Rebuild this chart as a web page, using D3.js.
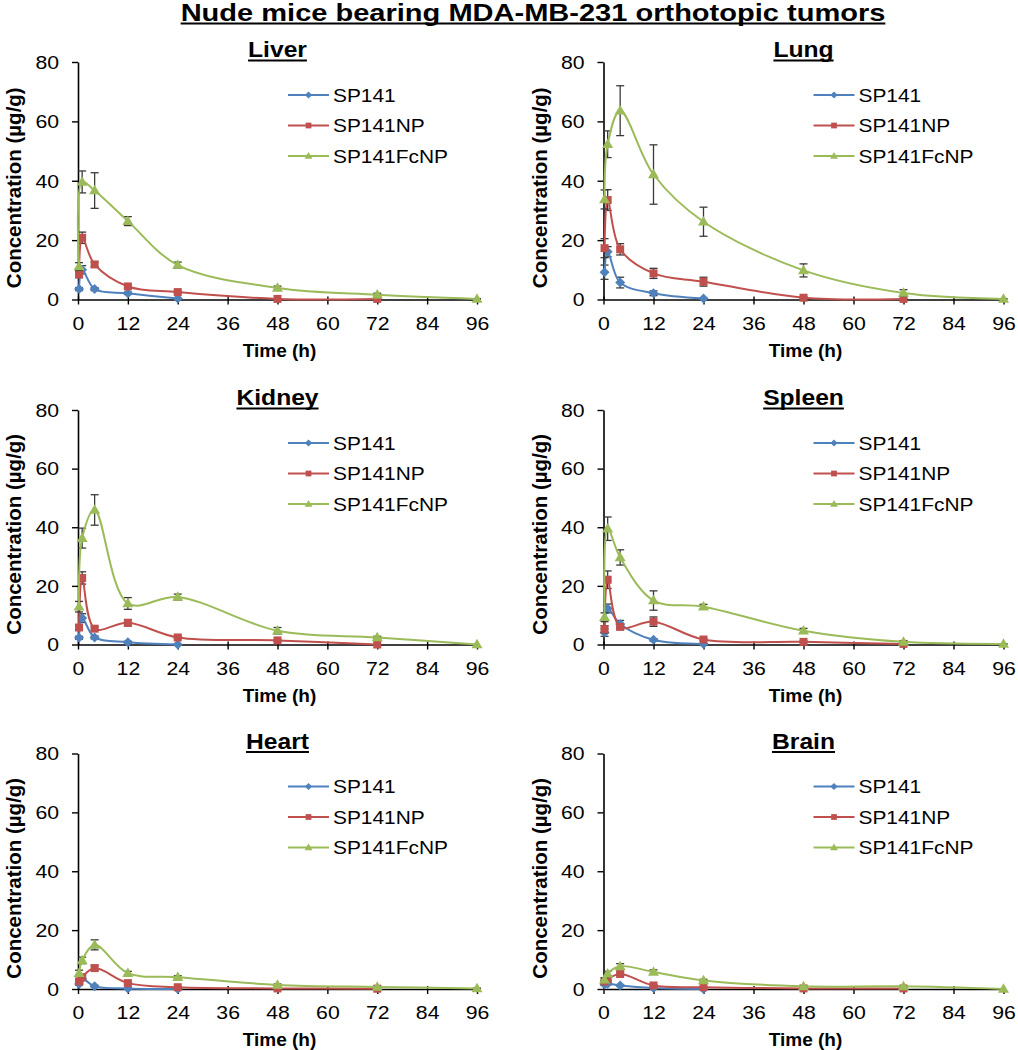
<!DOCTYPE html>
<html>
<head>
<meta charset="utf-8">
<script src="https://cdn.jsdelivr.net/npm/d3@7"></script>
<style>
  body { margin: 0; background: #fff; }
  text { font-family: Arial, "Liberation Sans", sans-serif; fill: #000; }
</style>
</head>
<body>
<script>
// sampling times (h) and axis ticks
const times = [0.25, 1, 4, 12, 24, 48, 72, 96];
const seriesNames = ["SP141", "SP141NP", "SP141FcNP"];
const organs = ["Liver", "Lung", "Kidney", "Spleen", "Heart", "Brain"];
const xTicks = [0, 12, 24, 36, 48, 60, 72, 84, 96];
const yTicks = [0, 20, 40, 60, 80];

// mean concentration (µg/g), one row per formulation
const liver = [
  [3.5, 10.0, 3.5, 2.1, 0.3],
  [8.4, 20.8, 11.8, 4.4, 2.5, 0.2, 0.2],
  [11.1, 39.6, 36.7, 26.4, 11.6, 3.9, 1.6, 0.2]
];
const liverErr = [
  [0.5, 1.4, 0.5, 0.4, 0.1],
  [1.0, 1.9, 0.8, 0.6, 0.4, 0.1, 0.1],
  [1.3, 3.7, 6.0, 1.5, 1.0, 0.6, 0.5, 0.1]
];
const lung = [
  [9.2, 16.1, 5.7, 2.1, 0.3],
  [17.3, 33.5, 16.9, 8.8, 6.0, 0.6, 0.2],
  [33.7, 52.3, 63.6, 42.1, 26.2, 9.8, 2.2, 0.2]
];
const lungErr = [
  [2.4, 1.7, 1.8, 0.8, 0.2],
  [3.2, 3.5, 1.9, 1.7, 1.5, 0.4, 0.1],
  [3.2, 4.5, 8.4, 10.0, 4.9, 2.2, 1.1, 0.1]
];
const kidney = [
  [2.3, 9.0, 2.4, 0.8, 0.0],
  [5.8, 22.7, 5.4, 7.4, 2.4, 1.4, 0.0],
  [12.9, 36.3, 45.9, 14.0, 16.2, 4.7, 2.4, 0.0]
];
const kidneyErr = [
  [0.5, 1.5, 0.5, 0.3, 0.0],
  [0.8, 2.1, 0.6, 1.1, 0.4, 0.3, 0.0],
  [1.8, 3.4, 5.2, 2.0, 1.0, 1.1, 0.4, 0.0]
];
const spleen = [
  [4.1, 12.3, 7.0, 1.6, 0.2],
  [5.2, 22.1, 6.0, 7.8, 1.7, 0.9, 0.2],
  [9.3, 39.5, 29.7, 15.0, 12.9, 4.7, 0.9, 0.2]
];
const spleenErr = [
  [1.3, 1.5, 1.2, 0.4, 0.1],
  [1.2, 3.0, 0.7, 1.6, 0.3, 0.3, 0.1],
  [1.5, 4.0, 2.6, 3.3, 0.8, 0.8, 0.3, 0.1]
];
const heart = [
  [1.7, 3.5, 0.9, 0.2, 0.0],
  [2.6, 4.0, 7.1, 2.0, 0.6, 0.2, 0.1],
  [5.4, 9.7, 15.0, 5.4, 4.0, 1.4, 0.7, 0.2]
];
const heartErr = [
  [0.4, 0.6, 0.3, 0.1, 0.0],
  [0.5, 0.6, 0.9, 0.4, 0.2, 0.1, 0.0],
  [1.0, 1.1, 1.7, 0.6, 0.5, 0.3, 0.2, 0.1]
];
const brain = [
  [1.5, 1.8, 1.2, 0.3, 0.0],
  [2.6, 3.4, 5.1, 1.2, 0.6, 0.2, 0.2],
  [3.2, 5.2, 7.7, 5.8, 2.9, 0.9, 0.9, 0.0]
];
const brainErr = [
  [0.3, 0.4, 0.3, 0.1, 0.0],
  [0.4, 0.5, 0.6, 0.3, 0.1, 0.1, 0.1],
  [0.6, 0.8, 0.9, 0.7, 0.4, 0.2, 0.2, 0.0]
];

const means = [liver, lung, kidney, spleen, heart, brain];
const errs = [liverErr, lungErr, kidneyErr, spleenErr, heartErr, brainErr];

const colors = ["#4f81bd", "#c0504d", "#9bbb59"];

const width = 1018, height = 1050;
const cols = [[78, 477], [603.5, 1003.5]];
const rows = [[62, 299.5], [410, 644.5], [753.5, 989]];

const svg = d3.select("body").append("svg")
  .attr("width", width)
  .attr("height", height);

svg.append("rect").attr("width", width).attr("height", height).attr("fill", "#fff");

// horizontally stretched text, like the original figure
function stretched(g, x, y, str, size, sx, opts = {}) {
  const t = g.append("text")
    .attr("transform", `translate(${x},${y}) scale(${sx},1)`)
    .attr("text-anchor", opts.anchor || "start")
    .attr("font-size", size)
    .attr("font-weight", opts.bold ? "bold" : "normal")
    .text(str);
  if (opts.dy) t.attr("dy", opts.dy);
  return t;
}

function underlined(g, cx, baseline, str, size, sx, gap, thick) {
  const t = stretched(g, cx, baseline, str, size, sx, { anchor: "middle", bold: true });
  const w = t.node().getComputedTextLength() * sx;
  g.append("line")
    .attr("x1", cx - w / 2).attr("x2", cx + w / 2)
    .attr("y1", baseline + gap).attr("y2", baseline + gap)
    .attr("stroke", "#000").attr("stroke-width", thick);
}

// marker paths
function marker(k, s) {
  if (k === 0) return `M0,${-s}L${s},0L0,${s}L${-s},0Z`;
  if (k === 1) return `M${-s * 0.8},${-s * 0.8}H${s * 0.8}V${s * 0.8}H${-s * 0.8}Z`;
  const h = s * 1.9;
  return `M0,${-h * 0.6}L${h * 0.58},${h * 0.4}L${-h * 0.58},${h * 0.4}Z`;
}

// main title
underlined(svg, 533, 21, "Nude mice bearing MDA-MB-231 orthotopic tumors", 24, 1.21, 2.5, 2);

organs.forEach((organ, i) => {
  const [x0, x1] = cols[i % 2];
  const [yTop, yBot] = rows[Math.floor(i / 2)];
  const g = svg.append("g");

  const x = d3.scaleLinear().domain([0, 96]).range([x0, x1]);
  const y = d3.scaleLinear().domain([0, 80]).range([yBot, yTop]);

  // y axis
  const yAxis = g.append("g")
    .attr("transform", `translate(${x0},0)`)
    .call(d3.axisLeft(y).tickValues(yTicks).tickSize(6).tickSizeOuter(0));
  yAxis.select(".domain").attr("stroke", "#000").attr("stroke-width", 1.6);
  yAxis.selectAll(".tick line").attr("stroke", "#000").attr("stroke-width", 1.4);
  yAxis.selectAll(".tick text")
    .attr("font-family", null).attr("font-size", 18)
    .attr("x", -19 / 1.18).attr("dy", "0.35em")
    .attr("transform", "scale(1.18,1)");

  // x axis
  const xAxis = g.append("g")
    .attr("transform", `translate(0,${yBot})`)
    .call(d3.axisBottom(x).tickValues(xTicks).tickSize(5).tickSizeOuter(0));
  xAxis.select(".domain").attr("stroke", "#000").attr("stroke-width", 1.6);
  xAxis.selectAll(".tick line").attr("stroke", "#000").attr("stroke-width", 1.4).attr("y1", -3);
  xAxis.selectAll(".tick text")
    .attr("font-family", null).attr("font-size", 18)
    .attr("y", 30.5).attr("dy", null)
    .attr("transform", "scale(1.18,1)");

  // titles and axis labels
  underlined(g, (x0 + x1) / 2, yTop - 5, organ, 22, 1.12, 3.5, 2);
  g.append("text")
    .attr("x", (x0 + x1) / 2 + 2).attr("y", yBot + 57)
    .attr("text-anchor", "middle").attr("font-size", 19).attr("font-weight", "bold")
    .text("Time (h)");
  g.append("text")
    .attr("transform", `translate(${x0 - 57},${(yTop + yBot) / 2 + 7}) rotate(-90)`)
    .attr("text-anchor", "middle").attr("font-size", 20.5).attr("font-weight", "bold")
    .text("Concentration (µg/g)");

  const line = d3.line()
    .x(d => x(d.t))
    .y(d => y(d.v))
    .curve(d3.curveCatmullRom.alpha(0.5));

  seriesNames.forEach((name, k) => {
    const pts = means[i][k].map((v, j) => ({ t: times[j], v: v, e: errs[i][k][j] }));

    // error bars
    const eb = g.append("g").attr("stroke", "#3a3a3a").attr("stroke-width", 1.3);
    pts.filter(d => d.e > 0).forEach(d => {
      const cx = x(d.t), lo = y(d.v - d.e), hi = y(d.v + d.e);
      eb.append("line").attr("x1", cx).attr("x2", cx).attr("y1", lo).attr("y2", hi);
      eb.append("line").attr("x1", cx - 4).attr("x2", cx + 4).attr("y1", lo).attr("y2", lo);
      eb.append("line").attr("x1", cx - 4).attr("x2", cx + 4).attr("y1", hi).attr("y2", hi);
    });

    g.append("path")
      .datum(pts)
      .attr("fill", "none")
      .attr("stroke", colors[k])
      .attr("stroke-width", 2)
      .attr("d", line);

    g.selectAll(null)
      .data(pts)
      .enter().append("path")
      .attr("transform", d => `translate(${x(d.t)},${y(d.v)})`)
      .attr("d", marker(k, 5))
      .attr("fill", colors[k]);

    // legend
    const ly = yTop + 33 + k * 30.5;
    const lx = x0 + 210;
    g.append("line")
      .attr("x1", lx).attr("x2", lx + 41)
      .attr("y1", ly).attr("y2", ly)
      .attr("stroke", colors[k]).attr("stroke-width", 2);
    g.append("path")
      .attr("transform", `translate(${lx + 20.5},${ly})`)
      .attr("d", marker(k, 3.6))
      .attr("fill", colors[k]);
    stretched(g, lx + 45, ly, name, 19, 1.1, { dy: "0.35em" });
  });
});
</script>
</body>
</html>
